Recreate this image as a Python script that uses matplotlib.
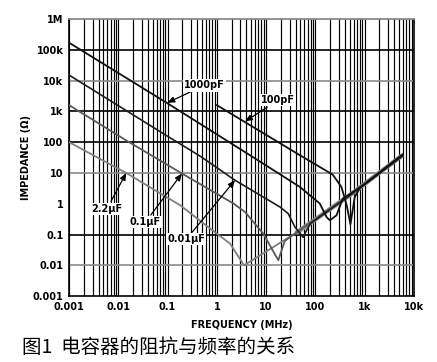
import matplotlib
matplotlib.use("Agg")
import matplotlib.pyplot as plt
import numpy as np

# impedance curves (frequency in MHz, impedance in ohm)
f_1000p = [0.001, 0.0986, 4.05, 48.5, 123, 169, 197, 269, 360, 1000, 5900]
z_1000p = [170000, 1850, 43.9, 3.52, 1.02, 0.37, 0.29, 0.42, 1.45, 4.3, 36]

f_100p = [1.0, 48.5, 226, 339, 434, 516, 630, 796, 5900]
z_100p = [1596, 37.8, 8.8, 3.5, 0.89, 0.215, 1.63, 3.2, 40]

f_10n = [0.001, 0.0818, 0.459, 2.34, 19.1, 28.1, 38.5, 56.6, 66.4, 80, 499, 5900]
z_10n = [15100, 190, 35.1, 5.8, 0.787, 0.48, 0.176, 0.081, 0.137, 0.23, 1.85, 38]

f_100n = [0.001, 0.0153, 0.196, 2.17, 3.74, 8.77, 17.7, 24, 48.5, 499, 5900]
z_100n = [1596, 108, 9.6, 1.02, 0.54, 0.107, 0.0146, 0.062, 0.14, 1.95, 39]

f_2u2 = [0.001, 0.0151, 0.181, 0.731, 1.86, 3.57, 48.5, 499, 5900]
z_2u2 = [100, 9.6, 0.89, 0.156, 0.0508, 0.01, 0.135, 1.85, 37]

# common inductive band where the curves merge
band_f = [40, 499, 5900]
band_z = [0.11, 1.89, 37.8]

x_ticks = [1e-3, 1e-2, 1e-1, 1, 10, 100, 1e3, 1e4]
x_labels = ['0.001', '0.01', '0.1', '1', '10', '100', '1k', '10k']
y_ticks = [1e-3, 1e-2, 1e-1, 1, 10, 100, 1e3, 1e4, 1e5, 1e6]
y_labels = ['0.001', '0.01', '0.1', '1', '10', '100', '1k', '10k', '100k', '1M']

# labels: text, text position, arrow tip
notes = [
    ('1000pF', (0.56, 7000), (0.0986, 1900)),
    ('100pF', (17.4, 2300), (3.74, 470)),
    ('2.2\u00b5F', (0.0059, 0.69), (0.0145, 10)),
    ('0.1\u00b5F', (0.0354, 0.25), (0.196, 9.6)),
    ('0.01\u00b5F', (0.24, 0.07), (2.34, 5.8)),
]

fig = plt.figure(figsize=(4.37, 3.62), dpi=100)
ax = fig.add_axes([0.158, 0.182, 0.789, 0.7655])
ax.set_xscale('log')
ax.set_yscale('log')
ax.set_xlim(1e-3, 1e4)
ax.set_ylim(1e-3, 1e6)

# vertical grid at every 1..9 step
for d in x_ticks[:-1]:
    for m in range(1, 10):
        ax.axvline(m * d, color='black', lw=0.85, zorder=1)

# decade lines, some grey some black like the scan
h_colors = {1e-2: '#8a8a8a', 1e-1: 'black', 10: '#8a8a8a', 100: 'black',
            1e3: 'black', 1e4: '#8a8a8a', 1e5: 'black'}
for yv, c in h_colors.items():
    ax.axhline(yv, color=c, lw=1.2, zorder=1)

ax.plot(band_f, band_z, color='#8c8c8c', lw=3.2, zorder=2, solid_capstyle='butt')
ax.plot(f_2u2, z_2u2, color='#808080', lw=1.3, zorder=3)
ax.plot(f_100n, z_100n, color='#5a5a5a', lw=1.3, zorder=3)
ax.plot(f_10n, z_10n, color='#1e1e1e', lw=1.2, zorder=3)
ax.plot(f_1000p, z_1000p, color='#111111', lw=1.3, zorder=3)
ax.plot(f_100p, z_100p, color='#111111', lw=1.3, zorder=3)

for txt, xyt, xy in notes:
    ax.annotate(txt, xy=xy, xytext=xyt, ha='center', va='center',
                fontsize=7, fontweight='bold', zorder=5,
                bbox=dict(boxstyle='square,pad=0.12', fc='white', ec='none'),
                arrowprops=dict(arrowstyle='-|>,head_length=0.6,head_width=0.25',
                                color='black', lw=0.9, shrinkA=1, shrinkB=0))

ax.set_xticks(x_ticks)
ax.set_xticklabels(x_labels)
ax.set_yticks(y_ticks)
ax.set_yticklabels(y_labels)
ax.minorticks_off()
ax.tick_params(length=0, labelsize=7, pad=4)
for lab in ax.get_xticklabels() + ax.get_yticklabels():
    lab.set_fontweight('bold')

for s in ['left', 'bottom', 'right']:
    ax.spines[s].set_color('black')
    ax.spines[s].set_linewidth(1.2)
ax.spines['top'].set_color('#8a8a8a')
ax.spines['top'].set_linewidth(1.3)

ax.set_xlabel('FREQUENCY (MHz)', fontsize=7, fontweight='bold', labelpad=6)
ax.set_ylabel('IMPEDANCE (\u03a9)', fontsize=7, fontweight='bold', labelpad=1)

fig.text(0.05, 0.04, '图1  电容器的阻抗与频率的关系', fontsize=14, va='center',
         family=['Noto Sans CJK SC', 'DejaVu Sans'])

fig.savefig('out.png', dpi=100)
plt.close(fig)
